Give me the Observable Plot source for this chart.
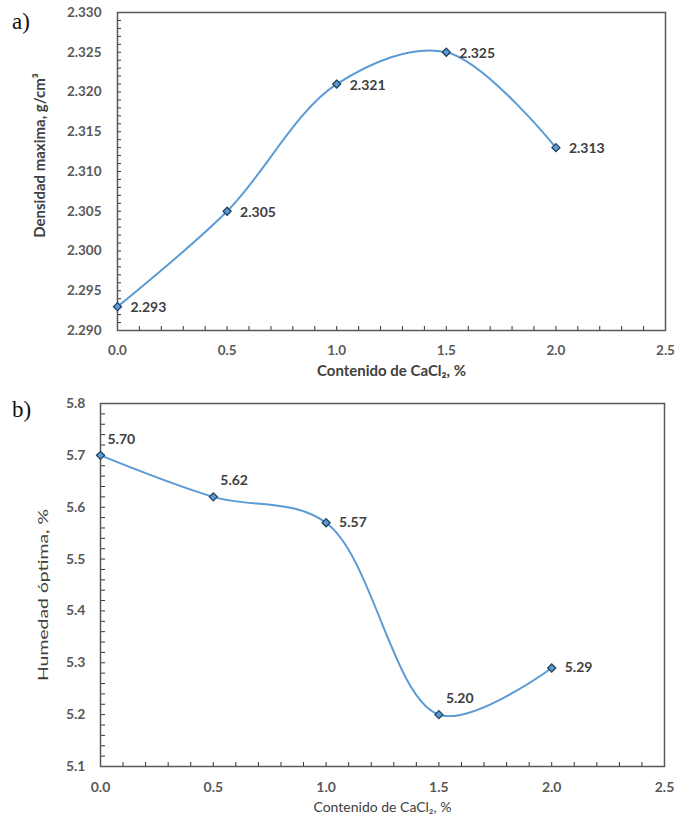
<!DOCTYPE html>
<html>
<head>
<meta charset="utf-8">
<script src="https://cdn.jsdelivr.net/npm/d3@7"></script>
<script src="https://cdn.jsdelivr.net/npm/@observablehq/plot@0.6"></script>
<style>
  html, body { margin: 0; padding: 0; background: #fff; }
  #root { position: relative; width: 681px; height: 822px; overflow: hidden; }
  #root svg { display: block; }
  .panel { position: absolute; font-family: "Liberation Serif", "Times New Roman", serif; font-size: 23px; color: #111; line-height: 1; }
</style>
</head>
<body>
<div id="root">
  <div id="chartA"></div>
  <div id="chartB"></div>
  <span class="panel" style="left:12px; top:10px;">a)</span>
  <span class="panel" style="left:12px; top:398px;">b)</span>
</div>
<script>
// ---- data ----
const cacl2 = [0.0, 0.5, 1.0, 1.5, 2.0];
const densidadMax = [2.293, 2.305, 2.321, 2.325, 2.313];
const humedadOptima = [5.70, 5.62, 5.57, 5.20, 5.29];
const xTickValues = [0.0, 0.5, 1.0, 1.5, 2.0, 2.5];
const yTickValuesA = [2.290, 2.295, 2.300, 2.305, 2.310, 2.315, 2.320, 2.325, 2.330];
const yTickValuesB = [5.1, 5.2, 5.3, 5.4, 5.5, 5.6, 5.7, 5.8];
const labelSideB = ["above", "above", "right", "above", "right"];
const titleXA = "Contenido de CaCl\u2082, %";
const titleYA = "Densidad maxima, g/cm\u00B3";
const titleXB = "Contenido de CaCl\u2082, %";
const titleYB = "Humedad \u00F3ptima, %";

const dataA = cacl2.map((x, i) => ({x, y: densidadMax[i]}));
const dataB = cacl2.map((x, i) => ({x, y: humedadOptima[i], side: labelSideB[i]}));

const xMinor = d3.range(0, 26).map(i => i / 10);
const yMinorA = d3.range(0, 41).map(i => 2.29 + i * 0.001);
const yMinorB = d3.range(0, 36).map(i => 5.1 + i * 0.02);

const FONT = "Lato, 'Open Sans', sans-serif";
const LINE = "#5b9bd5";
const MARK_STROKE = "#22425f";
const FRAME = "#595959";
const TXT = "#404040";

// ---- chart a ----
{
  const W = 681, H = 395, mL = 117, mR = 16, mT = 12, mB = 65;
  const pw = W - mL - mR, ph = H - mT - mB;
  const chart = Plot.plot({
    width: W, height: H,
    marginLeft: mL, marginRight: mR, marginTop: mT, marginBottom: mB,
    style: {fontFamily: FONT, background: "#fff"},
    x: {domain: [0, 2.5], axis: null},
    y: {domain: [2.29, 2.33], axis: null},
    marks: [
      Plot.tickX(xMinor, {x: d => d, insetTop: ph - 4, stroke: "#333", strokeWidth: 1}),
      Plot.tickY(yMinorA, {y: d => d, insetRight: pw - 4, stroke: "#333", strokeWidth: 1}),
      Plot.axisX({ticks: xTickValues, tickSize: 0, tickPadding: 15, tickFormat: d => d.toFixed(1),
                  label: null, fontSize: 13.5, fontWeight: "bold", fill: "#595959"}),
      Plot.axisY({ticks: yTickValuesA, tickSize: 0, tickPadding: 16, tickFormat: d => d.toFixed(3),
                  label: null, fontSize: 13.5, fontWeight: "bold", fill: "#595959"}),
      Plot.frame({stroke: FRAME, strokeWidth: 1.5}),
      Plot.line(dataA, {x: "x", y: "y", curve: "catmull-rom", stroke: LINE, strokeWidth: 2}),
      Plot.dot(dataA, {x: "x", y: "y", symbol: "diamond2", r: 3.6, fill: LINE, stroke: MARK_STROKE, strokeWidth: 1.3}),
      Plot.text(dataA, {x: "x", y: "y", text: d => d.y.toFixed(3), dx: 13, dy: 1, textAnchor: "start",
                        fontSize: 14, fontWeight: "bold", fill: TXT}),
      Plot.text([titleXA], {frameAnchor: "bottom", dy: 45, fontSize: 15, fontWeight: "bold", fill: TXT}),
      Plot.text([titleYA], {frameAnchor: "left", textAnchor: "middle", rotate: -90, dx: -77, dy: -16,
                            fontSize: 15, fontWeight: "bold", fill: TXT})
    ]
  });
  document.getElementById("chartA").appendChild(chart);
}

// ---- chart b ----
{
  const W = 681, H = 427, mL = 100, mR = 17, mT = 8, mB = 56;
  const pw = W - mL - mR, ph = H - mT - mB;
  const chart = Plot.plot({
    width: W, height: H,
    marginLeft: mL, marginRight: mR, marginTop: mT, marginBottom: mB,
    style: {fontFamily: FONT, background: "#fff"},
    x: {domain: [0, 2.5], axis: null},
    y: {domain: [5.1, 5.8], axis: null},
    marks: [
      Plot.tickX(xMinor, {x: d => d, insetTop: ph - 4, stroke: "#333", strokeWidth: 1}),
      Plot.tickY(yMinorB, {y: d => d, insetRight: pw - 5, stroke: "#333", strokeWidth: 1}),
      Plot.axisX({ticks: xTickValues, tickSize: 0, tickPadding: 16, tickFormat: d => d.toFixed(1),
                  label: null, fontSize: 14, fontWeight: "bold", fill: "#595959"}),
      Plot.axisY({ticks: yTickValuesB, tickSize: 0, tickPadding: 15, tickFormat: d => d.toFixed(1),
                  label: null, fontSize: 14, fontWeight: "bold", fill: "#595959"}),
      Plot.frame({stroke: FRAME, strokeWidth: 1.5}),
      Plot.line(dataB, {x: "x", y: "y", curve: "catmull-rom", stroke: LINE, strokeWidth: 2}),
      Plot.dot(dataB, {x: "x", y: "y", symbol: "diamond2", r: 3.6, fill: LINE, stroke: MARK_STROKE, strokeWidth: 1.3}),
      Plot.text(dataB.filter(d => d.side === "above"), {x: "x", y: "y", text: d => d.y.toFixed(2), dx: 7, dy: -16,
                        textAnchor: "start", fontSize: 14, fontWeight: "bold", fill: TXT}),
      Plot.text(dataB.filter(d => d.side === "right"), {x: "x", y: "y", text: d => d.y.toFixed(2), dx: 13, dy: 0,
                        textAnchor: "start", fontSize: 14, fontWeight: "bold", fill: TXT}),
      Plot.text([titleXB], {frameAnchor: "bottom", dy: 45, fontSize: 14, fill: TXT}),
      Plot.text([titleYB], {frameAnchor: "left", textAnchor: "middle", rotate: -90, dx: -57, dy: 10,
                            fontSize: 13.5, fill: TXT, className: "ytitleB"})
    ]
  });
  // stretch the rotated title along its length, as in the reference
  chart.querySelectorAll(".ytitleB text").forEach(t => {
    t.setAttribute("textLength", 172);
    t.setAttribute("lengthAdjust", "spacingAndGlyphs");
  });
  document.getElementById("chartB").appendChild(chart);
}
</script>
</body>
</html>
